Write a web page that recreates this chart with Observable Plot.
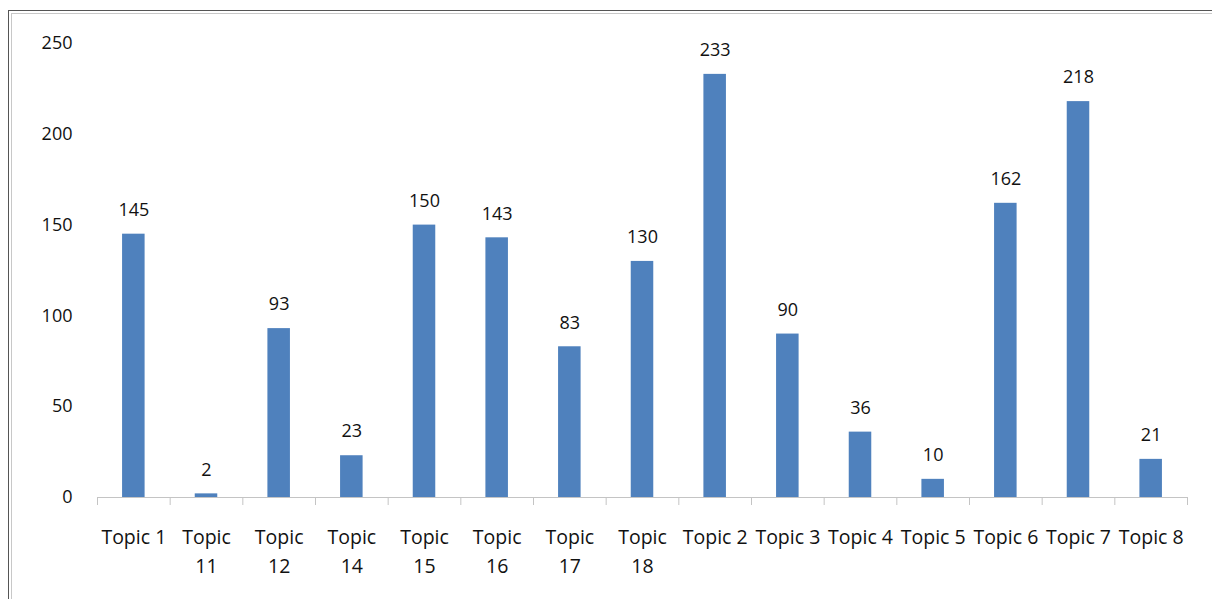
<!DOCTYPE html>
<html>
<head>
<meta charset="utf-8">
<script src="https://cdn.jsdelivr.net/npm/d3@7"></script>
<script src="https://cdn.jsdelivr.net/npm/@observablehq/plot@0.6"></script>
<style>
  html, body { margin: 0; padding: 0; background: #fff; overflow: hidden; }
  #wrap { position: relative; width: 1212px; height: 599px; }
  #frame { position: absolute; left: 8px; top: 10px; width: 1220px; height: 600px;
           border: 1px solid #555; box-shadow: inset 0 0 0 2px #fff, inset 0 0 0 3px #c8c8c8; }
  #chart { position: absolute; left: 0; top: 0; }
  #chart svg { font-family: "Open Sans", sans-serif; }
</style>
</head>
<body>
<div id="wrap"><div id="frame"></div><div id="chart"></div></div>
<script>
const categories = ["Topic 1","Topic 11","Topic 12","Topic 14","Topic 15","Topic 16","Topic 17","Topic 18","Topic 2","Topic 3","Topic 4","Topic 5","Topic 6","Topic 7","Topic 8"];
const values = [145, 2, 93, 23, 150, 143, 83, 130, 233, 90, 36, 10, 162, 218, 21];
const yTicks = [0, 50, 100, 150, 200, 250];

const data = categories.map((c, i) => ({topic: c, value: values[i]}));

const W = 1212, H = 599, mL = 97, mR = 25, mT = 43, mB = 102;
const step = (W - mL - mR) / categories.length;
const wrapLabel = s => s.length > 7 ? s.replace(" ", "\n") : s;

const chart = Plot.plot({
  width: W, height: H,
  marginLeft: mL, marginRight: mR, marginTop: mT, marginBottom: mB,
  style: {fontSize: "19.5px", color: "#111", background: "transparent"},
  x: {domain: categories, paddingInner: 0.69, paddingOuter: 0.345, round: false, label: null},
  y: {domain: [0, 250], label: null},
  marks: [
    Plot.barY(data, {x: "topic", y: "value", fill: "#4f81bd"}),
    Plot.ruleY([0], {stroke: "#c4c4c4"}),
    Plot.axisX({ticks: categories, tickSize: 8, tickFormat: () => "", stroke: "#c4c4c4", dx: -step / 2}),
    Plot.axisX({ticks: [categories[categories.length - 1]], tickSize: 8, tickFormat: () => "", stroke: "#c4c4c4", dx: step / 2}),
    Plot.axisX({tickSize: 0, tickPadding: 26, tickFormat: wrapLabel, lineHeight: 1.48, fill: "#111", label: null}),
    Plot.axisY({ticks: yTicks, tickSize: 0, tickPadding: 25, fill: "#111", fontSize: 18, label: null}),
    Plot.text(data, {x: "topic", y: "value", text: d => String(d.value), dy: -24, fill: "#111", fontSize: 18})
  ]
});
document.getElementById("chart").append(chart);
</script>
</body>
</html>
